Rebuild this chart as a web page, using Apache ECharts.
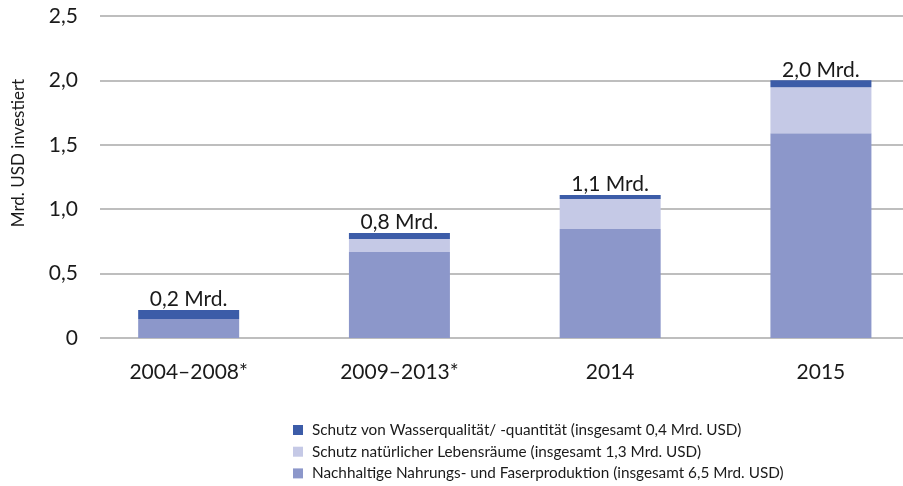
<!DOCTYPE html>
<html>
<head>
<meta charset="utf-8">
<script src="https://cdn.jsdelivr.net/npm/echarts@6/dist/echarts.min.js"></script>
<style>
  html, body { margin: 0; padding: 0; background: #fff; }
  #main { width: 903px; height: 486px; }
</style>
</head>
<body>
<div id="main"></div>
<script>
// categories and values (Mrd. USD)
var categories = ['2004–2008*', '2009–2013*', '2014', '2015'];
var foodFiber = [0.147, 0.668, 0.846, 1.59];   // Nachhaltige Nahrungs- und Faserproduktion
var habitat = [0, 0.10, 0.233, 0.357];          // Schutz natürlicher Lebensräume
var water = [0.07, 0.047, 0.031, 0.054];        // Schutz von Wasserqualität/ -quantität
var totals = [0.2, 0.8, 1.1, 2.0];

var names = {
  water: 'Schutz von Wasserqualität/ -quantität (insgesamt 0,4 Mrd. USD)',
  habitat: 'Schutz natürlicher Lebensräume (insgesamt 1,3 Mrd. USD)',
  food: 'Nachhaltige Nahrungs- und Faserproduktion (insgesamt 6,5 Mrd. USD)'
};

var fmt = function (v) {
  return v === 0 ? '0' : v.toFixed(1).replace('.', ',');
};
var FONT = 'Lato';

var myChart = echarts.init(document.getElementById('main'), null, { renderer: 'canvas' });

var option = {
  animation: false,
  textStyle: { fontFamily: FONT, color: '#1a1a1a' },
  grid: [
    // bars (band extends past the right edge, like the original)
    { left: 83.3, width: 843, top: 16, bottom: 148, outerBoundsMode: 'none' },
    // gridlines + y axis
    { left: 100, right: 0, top: 16, bottom: 148, outerBoundsMode: 'none' }
  ],
  legend: {
    orient: 'vertical',
    left: 293,
    top: 420,
    height: 100,
    padding: 0,
    icon: 'rect',
    itemWidth: 10,
    itemHeight: 10,
    itemGap: 1.7,
    textStyle: { fontFamily: FONT, fontSize: 15.3, color: '#1a1a1a', lineHeight: 20, padding: [0, 0, 0, 4] },
    data: [names.water, names.habitat, names.food]
  },
  xAxis: [
    {
      gridIndex: 0,
      type: 'category',
      data: categories,
      axisLine: { show: false },
      axisTick: { show: false },
      axisLabel: { fontFamily: FONT, fontSize: 21, color: '#1a1a1a', margin: 24 }
    },
    { gridIndex: 1, type: 'value', show: false, min: 0, max: 1 }
  ],
  yAxis: [
    { gridIndex: 0, type: 'value', min: 0, max: 2.5, show: false },
    {
      gridIndex: 1,
      type: 'value',
      min: 0,
      max: 2.5,
      interval: 0.5,
      name: 'Mrd. USD investiert',
      nameLocation: 'middle',
      nameRotate: 90,
      nameGap: 73,
      nameTextStyle: { fontFamily: FONT, fontSize: 17, color: '#1a1a1a', padding: [0, 0, 0, 48] },
      axisLine: { show: false },
      axisTick: { show: false },
      axisLabel: {
        fontFamily: FONT, fontSize: 21, color: '#1a1a1a', margin: 22,
        formatter: fmt
      },
      splitLine: { lineStyle: { color: '#a8a8a8', width: 1.5 } }
    }
  ],
  series: [
    {
      name: names.food,
      type: 'bar',
      stack: 'total',
      xAxisIndex: 0,
      yAxisIndex: 0,
      barWidth: 101,
      itemStyle: { color: '#8c97ca' },
      data: foodFiber
    },
    {
      name: names.habitat,
      type: 'bar',
      stack: 'total',
      xAxisIndex: 0,
      yAxisIndex: 0,
      barWidth: 101,
      itemStyle: { color: '#c5c9e6' },
      data: habitat
    },
    {
      name: names.water,
      type: 'bar',
      stack: 'total',
      xAxisIndex: 0,
      yAxisIndex: 0,
      barWidth: 101,
      itemStyle: { color: '#3c5ca8' },
      label: {
        show: true,
        position: 'top',
        distance: 0,
        fontFamily: FONT,
        fontSize: 21,
        color: '#1a1a1a',
        formatter: function (p) {
          return fmt(totals[p.dataIndex]) + ' Mrd.';
        }
      },
      data: water
    }
  ]
};

myChart.setOption(option, true);
</script>
</body>
</html>
